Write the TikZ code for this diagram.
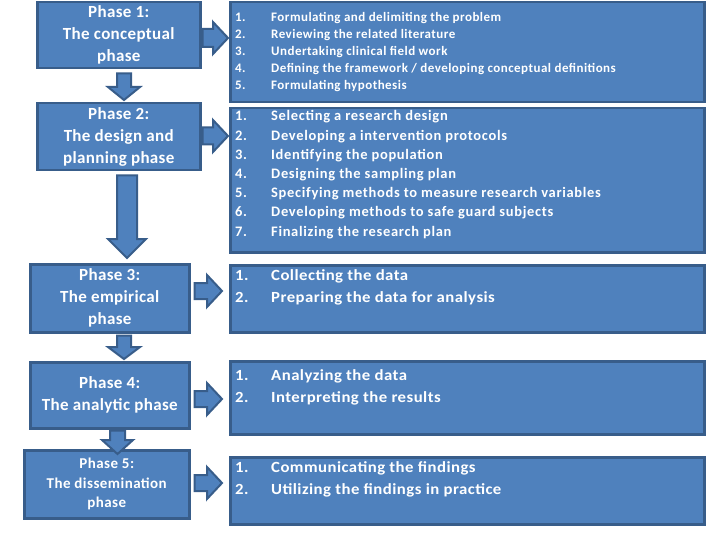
\documentclass[tikz,border=0pt]{standalone}
\usepackage{fontspec}
\setmainfont{Carlito}
\usetikzlibrary{calc}
\definecolor{fillc}{HTML}{4F81BD}
\definecolor{bordc}{HTML}{385D8A}
% #1 from node, #2 to node, #3 x-coordinate name, #4 shaft half, #5 head half, #6 head length, #7 start gap, #8 end gap
\newcommand\downblock[8]{%
  \draw[blockarrow]
    ($(#1.south -| #3)+({-(#4)},{#7})$) --
    ($(#2.north -| #3)+({-(#4)},{-(#6)-(#8)})$) --
    ($(#2.north -| #3)+({-(#5)},{-(#6)-(#8)})$) --
    ($(#2.north -| #3)+(0,{-(#8)})$) --
    ($(#2.north -| #3)+({#5},{-(#6)-(#8)})$) --
    ($(#2.north -| #3)+({#4},{-(#6)-(#8)})$) --
    ($(#1.south -| #3)+({#4},{#7})$) -- cycle;}
\newcommand\rightblock[8]{%
  \draw[blockarrow]
    ($(#1.east |- #3)+({#7},{-(#4)})$) --
    ($(#2.west |- #3)+({-(#6)-(#8)},{-(#4)})$) --
    ($(#2.west |- #3)+({-(#6)-(#8)},{-(#5)})$) --
    ($(#2.west |- #3)+({-(#8)},0)$) --
    ($(#2.west |- #3)+({-(#6)-(#8)},{#5})$) --
    ($(#2.west |- #3)+({-(#6)-(#8)},{#4})$) --
    ($(#1.east |- #3)+({#7},{#4})$) -- cycle;}
\newcommand\biglist{\fontsize{15.5}{22}\selectfont\addfontfeatures{FakeStretch=1.08,LetterSpace=3}}
\begin{document}
\begin{tikzpicture}[x=1pt,y=-1pt,
  box/.style={draw=bordc, fill=fillc, line width=2.5pt, inner sep=0pt, anchor=north west},
  blockarrow/.style={draw=bordc, fill=fillc, line width=2pt, line join=miter},
  phasetext/.style={text=white, align=center, inner sep=0pt,
    font=\bfseries\fontsize{17}{22}\selectfont\addfontfeatures{LetterSpace=2}},
  listtext/.style={text=white, inner sep=0pt, anchor=base west, font=\bfseries}]
\fill[white] (0,0) rectangle (720,540);
\useasboundingbox (0,0) rectangle (720,540);
% left boxes
\node[box, minimum width=163, minimum height=66] (p1) at (36,1) {};
\node[box, minimum width=163, minimum height=67] (p2) at (36,102) {};
\node[box, minimum width=159, minimum height=68] (p3) at (29,263) {};
\node[box, minimum width=159, minimum height=66] (p4) at (29,361) {};
\node[box, minimum width=165, minimum height=68] (p5) at (23,449) {};
% right boxes
\node[box, minimum width=474, minimum height=100] (r1) at (229,1) {};
\node[box, minimum width=474, minimum height=144] (r2) at (229,107) {};
\node[box, minimum width=474, minimum height=67] (r3) at (229,264) {};
\node[box, minimum width=474, minimum height=73] (r4) at (229,360) {};
\node[box, minimum width=474, minimum height=67] (r5) at (229,456) {};
% phase texts
\node[phasetext] (t1) at (p1.center) {Phase 1:\\The conceptual\\phase};
\node[phasetext] (t2) at (p2.center) {Phase 2:\\The design and\\planning phase};
\node[phasetext] (t3) at (p3.center) {Phase 3:\\The empirical\\phase};
\node[phasetext] (t4) at (p4.center) {Phase 4:\\The analytic phase};
\node[phasetext, font=\bfseries\fontsize{15}{19.5}\selectfont\addfontfeatures{LetterSpace=3}] (t5) at (p5.center) {Phase 5:\\The dissemination\\phase};
% lists
\node[listtext] (l1) at ($(r1.north west)+(6,21)$) {\fontsize{13}{16.8}\selectfont\addfontfeatures{LetterSpace=3.6}%
  \begin{tabular}[t]{@{}p{36pt}@{}l@{}}
  1.&Formulating and delimiting the problem\\
  2.&Reviewing the related literature\\
  3.&Undertaking clinical field work\\
  4.&Defining the framework / developing conceptual definitions\\
  5.&Formulating hypothesis
  \end{tabular}};
\node[listtext] (l2) at ($(r2.north west)+(6,14)$) {\fontsize{14.5}{19.2}\selectfont\addfontfeatures{LetterSpace=4.7}%
  \begin{tabular}[t]{@{}p{36pt}@{}l@{}}
  1.&Selecting a research design\\
  2.&Developing a intervention protocols\\
  3.&Identifying the population\\
  4.&Designing the sampling plan\\
  5.&Specifying methods to measure research variables\\
  6.&Developing methods to safe guard subjects\\
  7.&Finalizing the research plan
  \end{tabular}};
\node[listtext] (l3) at ($(r3.north west)+(6,16.5)$) {\biglist
  \begin{tabular}[t]{@{}p{36pt}@{}l@{}}
  1.&Collecting the data\\
  2.&Preparing the data for analysis
  \end{tabular}};
\node[listtext] (l4) at ($(r4.north west)+(6,20.5)$) {\biglist
  \begin{tabular}[t]{@{}p{36pt}@{}l@{}}
  1.&Analyzing the data\\
  2.&Interpreting the results
  \end{tabular}};
\node[listtext] (l5) at ($(r5.north west)+(6,16.5)$) {\biglist
  \begin{tabular}[t]{@{}p{36pt}@{}l@{}}
  1.&Communicating the findings\\
  2.&Utilizing the findings in practice
  \end{tabular}};
% reference coordinates for arrows
\coordinate (cx12) at (124,0);
\coordinate (cx23) at (127,0);
\coordinate (cx34) at (124,0);
\coordinate (cx45) at (117.5,0);
\coordinate (cy1) at (0,38);
\coordinate (cy2) at (0,136);
\coordinate (cy3) at (0,291);
\coordinate (cy4) at (0,399);
\coordinate (cy5) at (0,483);
% down arrows
\downblock{p1}{p2}{cx12}{7}{16}{13}{4}{2}
\downblock{p2}{p3}{cx23}{10}{19}{19}{4}{5}
\downblock{p3}{p4}{cx34}{7}{16}{12}{2}{2}
\downblock{p4}{p5}{cx45}{7.5}{15.5}{14}{1}{-5}
% right arrows
\rightblock{p1}{r1}{cy1}{9}{16}{15}{1}{1}
\rightblock{p2}{r2}{cy2}{8.5}{16}{15}{1}{1}
\rightblock{p3}{r3}{cy3}{8}{16}{15}{4}{7}
\rightblock{p4}{r4}{cy4}{8}{16}{15}{4}{7}
\rightblock{p5}{r5}{cy5}{8}{16}{15}{4}{7}
\end{tikzpicture}
\end{document}
